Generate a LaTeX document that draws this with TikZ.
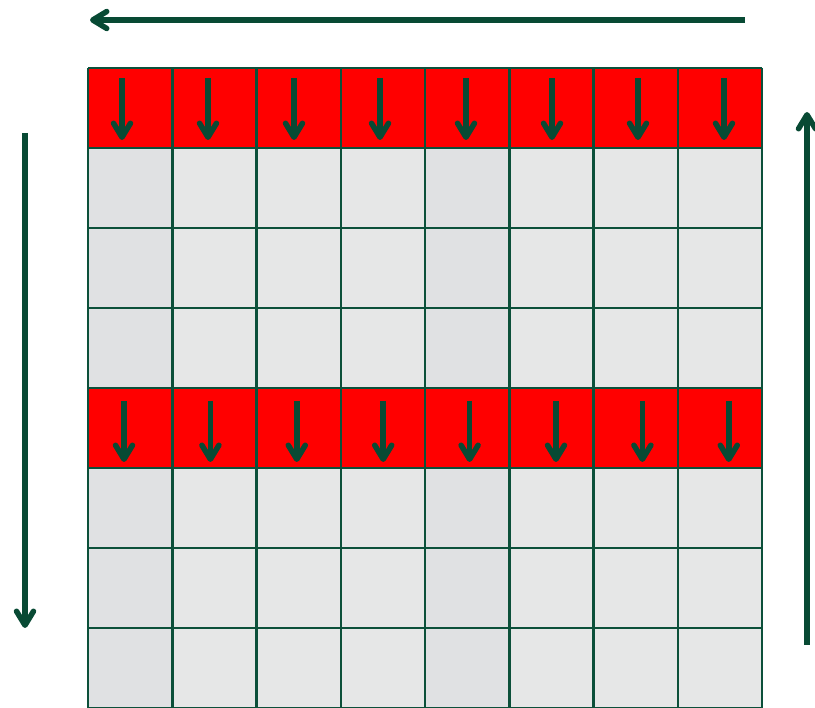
\documentclass[tikz,border=0pt]{standalone}
\usetikzlibrary{arrows.meta}
\definecolor{gridgreen}{RGB}{12,80,58}
\definecolor{arrowgreen}{RGB}{8,74,52}
\definecolor{cellgray}{RGB}{230,231,231}
\definecolor{cellgraydark}{RGB}{224,225,227}
\tikzset{
  gridline/.style={gridgreen, line width=2.5pt},
  flowarrow/.style={arrowgreen, line width=5.5pt, -{Straight Barb[round, length=14pt, width=17pt]}}
}
\begin{document}
\begin{tikzpicture}[x=1pt, y=-1pt]
\useasboundingbox (0,0) rectangle (815,708);
% cells
\fill[cellgray] (88,68) rectangle (762,708);
\fill[cellgraydark] (88,68) rectangle (172.25,708);
\fill[cellgraydark] (425,68) rectangle (509.25,708);
\fill[red] (88,68) rectangle (762,148);
\fill[red] (88,388) rectangle (762,468);
% grid lines
\foreach \i in {0,...,8}
  \draw[gridline] (88+84.25*\i,68) -- (88+84.25*\i,708);
\foreach \j in {0,...,8}
  \draw[gridline] (88,68+80*\j) -- (762,68+80*\j);
% arrows in the red rows
\foreach \i in {0,...,7}{
  \draw[flowarrow] (122+86*\i,78) -- (122+86*\i,140);
  \draw[flowarrow] (124+86.4*\i,401) -- (124+86.4*\i,462);
}
% outer arrows
\draw[flowarrow] (745,20) -- (90,20);
\draw[flowarrow] (25,133) -- (25,628);
\draw[flowarrow] (807,645) -- (807,112);
\end{tikzpicture}
\end{document}
